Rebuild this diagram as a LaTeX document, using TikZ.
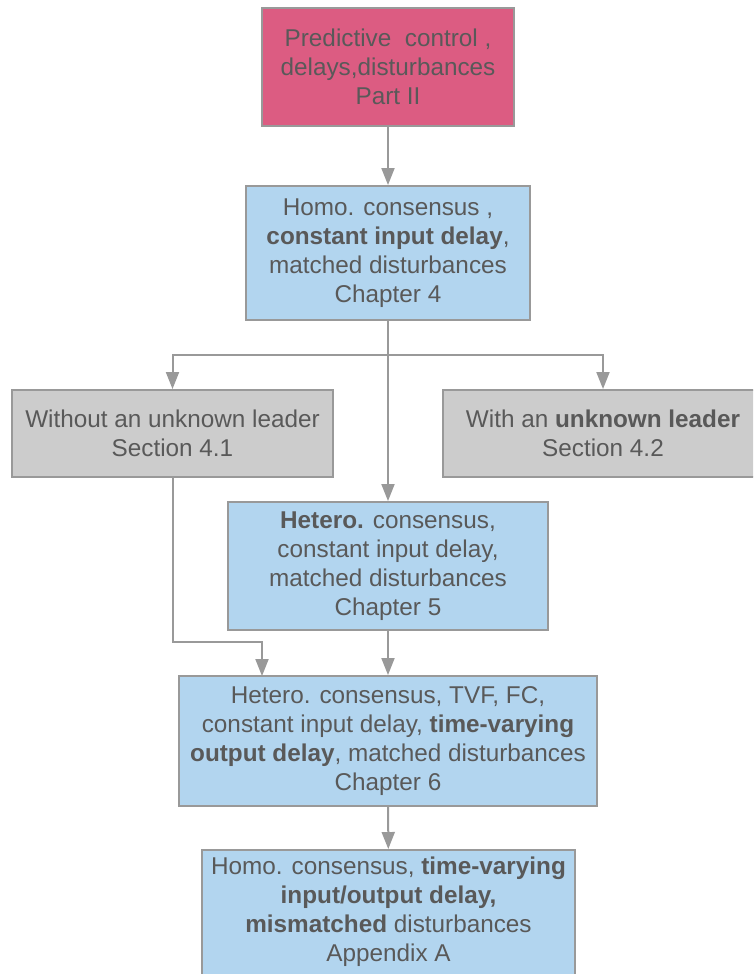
\documentclass[tikz,border=0pt]{standalone}
\usepackage{fontspec}
\setmainfont{Liberation Sans}
\usetikzlibrary{arrows.meta}
\definecolor{pinkfill}{HTML}{DC5C82}
\definecolor{bluefill}{HTML}{B2D5EF}
\definecolor{grayfill}{HTML}{CCCCCC}
\definecolor{bordergray}{HTML}{999999}
\definecolor{textgray}{HTML}{595959}
\tikzset{
  box/.style={draw=bordergray, line width=2pt, inner sep=0pt, align=center,
    text=textgray, font=\fontsize{24.3}{29}\selectfont},
  txt/.style={inner sep=0pt, align=center, text=textgray, font=\fontsize{24.3}{29}\selectfont},
  conn/.style={draw=bordergray, line width=2pt},
  arr/.style={conn, -{Triangle[width=13pt,length=17pt]}}
}
\begin{document}
\begin{tikzpicture}[x=1pt,y=-1pt]
\clip (0,0) rectangle (753,974);
\fill[white] (0,0) rectangle (753,974);
\node[box, fill=pinkfill, minimum width=252pt, minimum height=118pt] (P) at (388,67)
  {Predictive\ \ control ,\\delays,disturbances\\Part II};
\node[box, fill=bluefill, minimum width=284pt, minimum height=134pt] (C4) at (388,253)
  {Homo. consensus ,\\\textbf{constant input delay},\\matched disturbances\\Chapter 4};
\node[box, fill=grayfill, minimum width=321pt, minimum height=87pt] (L) at (172.5,433.5)
  {Without an unknown leader\\Section 4.1};
\node[box, fill=grayfill, minimum width=320pt, minimum height=87pt] (R) at (603,433.5)
  {With an \textbf{unknown leader}\\Section 4.2};
\node[box, fill=bluefill, minimum width=320pt, minimum height=128pt] (C5) at (388,566)
  {\textbf{Hetero.} consensus,\\constant input delay,\\matched disturbances\\Chapter 5};
\node[box, fill=bluefill, minimum width=418pt, minimum height=130pt] (C6) at (388,741)
  {Hetero. consensus, TVF, FC,\\constant input delay, \textbf{time-varying}\\\textbf{output delay}, matched disturbances\\Chapter 6};
\node[box, fill=bluefill, minimum width=373pt, minimum height=150pt] (A) at (388.5,925) {};
\node[txt] (At) at (388.5,912)
  {Homo. consensus, \textbf{time-varying}\\\textbf{input/output delay,}\\\textbf{mismatched} disturbances\\Appendix A};
\coordinate (br) at (388,355);
\coordinate (e1) at (172.5,642);
\coordinate (e2) at (262,676);
\draw[arr] (P) -- (C4);
\draw[conn] (C4.south) -- (br);
\draw[arr] (br) -| (L);
\draw[arr] (br) -| (R);
\draw[arr] (br) -- (C5);
\draw[arr] (L.south) -- (e1) -| (e2);
\draw[arr] (C5) -- (C6);
\draw[arr] (C6) -- (A);
\end{tikzpicture}
\end{document}
